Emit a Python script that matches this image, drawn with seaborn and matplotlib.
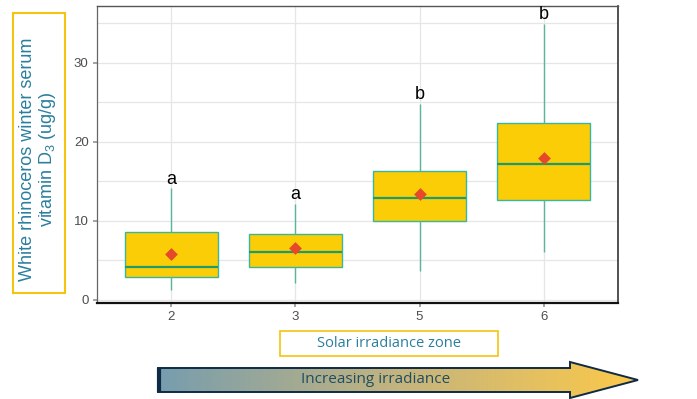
import numpy as np
import pandas as pd
import matplotlib
matplotlib.use("Agg")
import matplotlib.pyplot as plt
import seaborn as sns
from matplotlib.patches import Polygon, Rectangle
from matplotlib.colors import LinearSegmentedColormap
from matplotlib.ticker import MultipleLocator

# five-number summaries (ug/g)
zones = ["2", "3", "5", "6"]
whisker_low = [1.3, 2.1, 3.7, 6.0]
q1 = [2.9, 4.1, 10.0, 12.7]
medians = [4.2, 6.0, 12.9, 17.2]
q3 = [8.65, 8.35, 16.25, 22.45]
whisker_high = [14.1, 12.15, 24.85, 34.9]
means = [5.75, 6.5, 13.4, 18.0]
letters = ["a", "a", "b", "b"]

BOX_FILL = "#FBCD07"
BOX_EDGE = "#3DB59A"
MEDIAN = "#1E9A6C"
MEAN = "#E8482A"
TEAL_TEXT = "#2A7E9E"

sns.set_theme(style="whitegrid")
plt.rcParams["font.family"] = ["Liberation Sans", "DejaVu Sans"]

rows = []
for z, a, b, c, d, e in zip(zones, whisker_low, q1, medians, q3, whisker_high):
    for v in (a, b, c, d, e):
        rows.append({"zone": z, "value": v})
df = pd.DataFrame(rows)

fig = plt.figure(figsize=(6.97, 3.99), dpi=100)
ax = fig.add_axes([97 / 697, 96 / 399, 521 / 697, 297 / 399])

sns.boxplot(
    data=df, x="zone", y="value", order=zones, whis=(0, 100), width=0.75,
    showcaps=False, linewidth=1.0,
    boxprops=dict(facecolor=BOX_FILL, edgecolor=BOX_EDGE),
    whiskerprops=dict(color="#5AB59C", linewidth=1.0),
    medianprops=dict(color=MEDIAN, linewidth=1.6),
    ax=ax,
)
sns.stripplot(x=zones, y=means, order=zones, marker="D", color=MEAN, size=6.5,
              jitter=False, linewidth=0, zorder=5, ax=ax)

for i, (lab, top) in enumerate(zip(letters, whisker_high)):
    ax.text(i, top + 0.6, lab, ha="center", va="baseline", fontsize=13, color="black")

ax.set_xlim(-0.6, 3.6)
ax.set_ylim(-0.4, 37.2)
ax.yaxis.set_major_locator(MultipleLocator(10))
ax.yaxis.set_minor_locator(MultipleLocator(5))
ax.grid(which="both", color="#E6E6E6", linewidth=0.9)
ax.set_xlabel("")
ax.set_ylabel("")
ax.tick_params(axis="both", which="major", labelsize=9.5, labelcolor="#4D4D4D",
               length=3, color="#999999", left=True, bottom=True, pad=3)
ax.tick_params(axis="y", which="minor", length=0)
for side, col, lw in [("left", "#666666", 0.9), ("bottom", "#111111", 1.6),
                      ("top", "#555555", 1.0), ("right", "#333333", 1.2)]:
    ax.spines[side].set_visible(True)
    ax.spines[side].set_color(col)
    ax.spines[side].set_linewidth(lw)

# decorations in pixel coordinates
deco = fig.add_axes([0, 0, 1, 1], zorder=-1)
deco.set_xlim(0, 697)
deco.set_ylim(399, 0)
deco.axis("off")
deco.patch.set_visible(False)

deco.add_patch(Rectangle((13, 13), 52, 280, fill=False, edgecolor="#F6C30F", linewidth=1.5))
deco.text(38.5, 159, "White rhinoceros winter serum\nvitamin D$\\mathregular{_3}$ (ug/g)",
          rotation=90, ha="center", va="center", fontsize=13, color=TEAL_TEXT,
          linespacing=1.05)

deco.add_patch(Rectangle((280, 331), 218, 25, fill=False, edgecolor="#F6C30F", linewidth=1.2))
deco.text(389, 343.5, "Solar irradiance zone", ha="center", va="center",
          fontsize=10.5, color=TEAL_TEXT, family=["Open Sans", "DejaVu Sans"])

arrow_pts = [(158, 368), (570, 368), (570, 362), (638, 380), (570, 398), (570, 392), (158, 392)]
arrow = Polygon(arrow_pts, closed=True, facecolor="none", edgecolor="#0E2A45", linewidth=1.4)
deco.add_patch(arrow)
cmap = LinearSegmentedColormap.from_list("irr", ["#779DAE", "#C4B47E", "#FCC94A"])
grad = deco.imshow(np.linspace(0, 1, 256).reshape(1, -1), extent=(158, 638, 398, 362),
                   cmap=cmap, aspect="auto", zorder=0)
grad.set_clip_path(arrow)
deco.plot([158.5, 158.5], [368, 392], color="#0E2A45", linewidth=3, solid_capstyle="butt")
deco.text(376, 379.5, "Increasing irradiance", ha="center", va="center",
          fontsize=11, color="#1D4E63", family=["Open Sans", "DejaVu Sans"])
deco.set_xlim(0, 697)
deco.set_ylim(399, 0)

fig.savefig("out.png", dpi=100)
